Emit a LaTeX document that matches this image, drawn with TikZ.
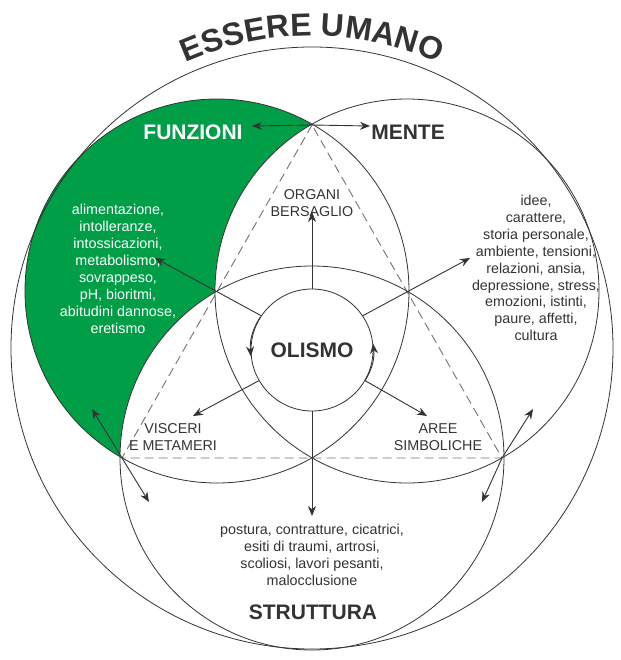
\documentclass[tikz,border=0pt]{standalone}
\usepackage{fontspec}
\setmainfont{Liberation Sans}
\usetikzlibrary{arrows.meta,decorations.text}
\definecolor{grn}{HTML}{009E47}
\definecolor{ink}{HTML}{333333}
\begin{document}
\begin{tikzpicture}[x=1pt,y=-1pt,
  ring/.style={line width=0.8pt,draw=ink},
  arr/.style={line width=0.9pt,draw=ink,-{Stealth[length=10pt,width=8pt]}},
  dashline/.style={line width=0.9pt,draw=black!55,dash pattern=on 9pt off 5pt},
  body/.style={align=center,font=\fontsize{14.3}{16.9}\selectfont,text=ink,inner sep=0pt},
  big/.style={font=\bfseries\fontsize{21}{22}\selectfont,text=ink,inner sep=0pt}]
\useasboundingbox (0,0) rectangle (620,660);
% green region
\begin{scope}
  \clip (217,291) circle[radius=192];
  \fill[grn] (217,291) circle[radius=192];
  \fill[white] (407,291) circle[radius=192];
  \fill[white] (312,458) circle[radius=192];
\end{scope}
% dashed triangle
\coordinate (T) at (312,125);
\coordinate (BL) at (122,458);
\coordinate (BR) at (502,458);
\draw[dashline] (T) -- (BL) -- (BR) -- cycle;
% circles
\draw[ring] (312,348) circle[radius=301];
\draw[ring] (217,291) circle[radius=192];
\draw[ring] (407,291) circle[radius=192];
\draw[ring] (312,458) circle[radius=192];
% title
\path[decorate,decoration={text along path,text align=center,
  text={|\bfseries\fontsize{32}{32}\selectfont\color{ink}|ESSERE UMANO}}]
  (312,348) ++(-118:312) arc[start angle=-118,end angle=-62,radius=312];
% olismo
\node[circle,draw=ink,line width=0.8pt,fill=white,minimum size=122pt,inner sep=0pt,big] (ol) at (312,350) {OLISMO};
\draw[arr] (ol.148) to[bend right=18] (ol.186);
\draw[arr] (ol.-30) to[bend right=18] (ol.6);
% labels
\node[big,text=white] (fun) at (193,132) {FUNZIONI};
\node[big] (men) at (408,132) {MENTE};
\node[big] (str) at (313,612) {STRUTTURA};
\node[body] (org) at (312,203) {ORGANI\\BERSAGLIO};
\node[body] (vis) at (173,437) {VISCERI\\E METAMERI};
\node[body] (are) at (438,437) {AREE\\SIMBOLICHE};
\node[body,text=white] (gl) at (118,269) {alimentazione,\\intolleranze,\\intossicazioni,\\metabolismo,\\sovrappeso,\\pH, bioritmi,\\abitudini dannose,\\eretismo};
\node[body] (ml) at (536,268) {idee,\\carattere,\\storia personale,\\ambiente, tensioni,\\relazioni, ansia,\\depressione, stress,\\emozioni, istinti,\\paure, affetti,\\cultura};
\node[body] (sl) at (312,555) {postura, contratture, cicatrici,\\esiti di traumi, artrosi,\\scoliosi, lavori pesanti,\\malocclusione};
% arrows from olismo
\coordinate (aU) at (312,212);
\coordinate (aUL) at (155,258);
\coordinate (aUR) at (470,258);
\coordinate (aDL) at (193,416);
\coordinate (aDR) at (427,416);
\coordinate (aD) at (312,516);
\draw[arr] (ol.90) -- (aU);
\draw[arr] (ol.146) -- (aUL);
\draw[arr] (ol.34) -- (aUR);
\draw[arr] (ol.-150) -- (aDL);
\draw[arr] (ol.-30) -- (aDR);
\draw[arr] (ol.-90) -- (aD);
% double arrows
\coordinate (Tl) at (252,126);
\coordinate (Tr) at (370,126);
\draw[arr] (T) -- (Tl);
\draw[arr] (T) -- (Tr);
\coordinate (BLu) at (92,409);
\coordinate (BLd) at (149,502);
\draw[arr] (BL) -- (BLu);
\draw[arr] (BL) -- (BLd);
\coordinate (BRu) at (533,409);
\coordinate (BRd) at (482,502);
\draw[arr] (BR) -- (BRu);
\draw[arr] (BR) -- (BRd);
\end{tikzpicture}
\end{document}
